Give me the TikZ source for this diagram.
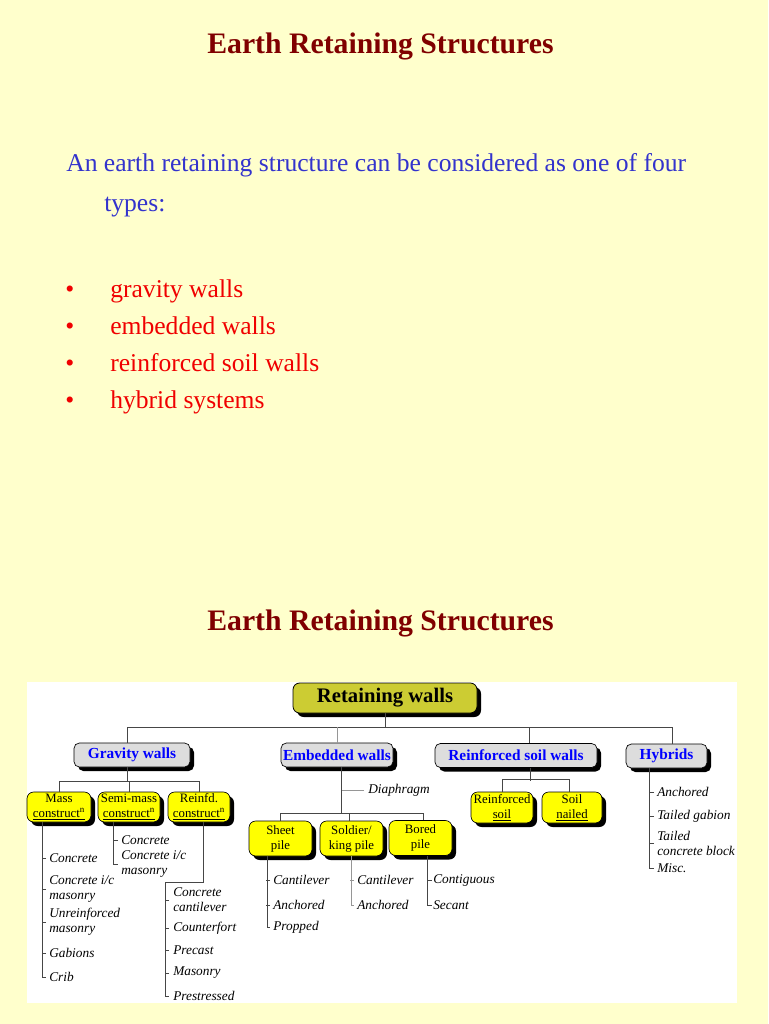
\documentclass[tikz,border=0pt]{standalone}
\usepackage{fontspec}
\setmainfont{Liberation Serif}
\usetikzlibrary{shadows}
\definecolor{bg}{RGB}{255,255,204}
\definecolor{ttl}{RGB}{128,0,0}
\definecolor{blu}{RGB}{51,51,204}
\definecolor{rd}{RGB}{240,0,0}
\definecolor{olivebox}{RGB}{204,204,51}
\definecolor{gbox}{RGB}{221,221,221}
\definecolor{ylw}{RGB}{255,255,0}
\definecolor{dln}{RGB}{70,70,70}
\definecolor{lln}{RGB}{150,150,150}
\definecolor{tblue}{RGB}{0,0,255}
\begin{document}
\begin{tikzpicture}[x=0.75pt,y=-0.75pt,
 shd/.style={drop shadow={shadow xshift=3pt,shadow yshift=-3pt,fill=black,opacity=1}},
 rootbox/.style={draw=black,line width=0.6pt,fill=olivebox,rounded corners=5pt,shd,minimum width=138pt,minimum height=22.5pt,inner sep=0pt,font=\fontsize{15.5}{18}\selectfont\bfseries},
 graybox/.style={draw=black,line width=0.5pt,fill=gbox,rounded corners=4pt,shd,minimum height=18pt,inner sep=0pt,text=tblue,font=\fontsize{11.5}{13}\selectfont\bfseries},
 ybox/.style={draw=black,line width=0.5pt,fill=ylw,rounded corners=5pt,shd,inner sep=0pt,align=center,font=\fontsize{9.6}{11.25}\selectfont},
 item/.style={anchor=west,inner sep=0pt,align=left,font=\fontsize{10}{11.25}\selectfont\itshape},
 ln/.style={draw=dln,line width=0.6pt},
 lt/.style={draw=lln,line width=0.6pt},
 ttlstyle/.style={anchor=base,inner sep=0pt,text=ttl,font=\fontsize{22.3}{26}\selectfont\bfseries},
 bodyblue/.style={anchor=base west,inner sep=0pt,text=blu,font=\fontsize{19.2}{22}\selectfont},
 bodyred/.style={anchor=base west,inner sep=0pt,text=rd,font=\fontsize{19.2}{22}\selectfont},
 ]
\fill[bg] (0,0) rectangle (768,1024);
\useasboundingbox (0,0) rectangle (768,1024);

% --- slide 1
\node[ttlstyle] (t1) at (380.5,54) {Earth Retaining Structures};
\node[bodyblue] (b1) at (66,171) {An earth retaining structure can be considered as one of four};
\node[bodyblue] (b2) at (104,211) {types:};
\foreach \y/\t/\n in {297/gravity walls/r1,334/embedded walls/r2,371/reinforced soil walls/r3,408/hybrid systems/r4}{
  \node[bodyred] (\n d) at (65,\y) {•};
  \node[bodyred] (\n) at (110,\y) {\t};
}

% --- slide 2
\node[ttlstyle] (t2) at (380.5,630) {Earth Retaining Structures};
\fill[white] (27,682) rectangle (737,1003);

% level 1
\node[rootbox] (root) at (385,698) {Retaining walls};
% level 2
\node[graybox,minimum width=87pt] (grav) at (132,755) {Gravity walls};
\node[graybox,minimum width=84pt] (emb) at (337,755) {Embedded walls};
\node[graybox,minimum width=121.5pt] (rsw) at (516,755.5) {Reinforced soil walls};
\node[graybox,minimum width=60.75pt] (hyb) at (666.5,756) {Hybrids};
% level 3
\node[ybox,minimum width=48pt,minimum height=22.5pt] (mass) at (59,807) {Mass\\\underline{construct\textsuperscript{n}}};
\node[ybox,minimum width=46.5pt,minimum height=22.5pt] (semi) at (129,807) {Semi-mass\\\underline{construct\textsuperscript{n}}};
\node[ybox,minimum width=46.5pt,minimum height=22.5pt] (reinf) at (199,807) {Reinfd.\\\underline{construct\textsuperscript{n}}};
\node[ybox,minimum width=47.25pt,minimum height=26.25pt] (sheet) at (280.5,838.5) {Sheet\\pile};
\node[ybox,minimum width=47.25pt,minimum height=26.25pt] (sold) at (351.5,838.5) {Soldier/\\king pile};
\node[ybox,minimum width=47.25pt,minimum height=26.25pt] (bored) at (420.5,838) {Bored\\pile};
\node[ybox,minimum width=46.5pt,minimum height=23.25pt] (rsoil) at (502,807.5) {Reinforced\\\underline{soil}};
\node[ybox,minimum width=45pt,minimum height=23.25pt] (snail) at (572,807.5) {Soil\\\underline{nailed}};

% connectors level 1 -> 2
\coordinate (rb) at (385,727);
\draw[ln] (root.south) -- (rb);
\draw[ln] ([xshift=-3.75pt]grav.north) -- ([xshift=-3.75pt]grav.north |- rb) -| ([xshift=4.1pt]hyb.north);
\draw[lt] (emb.north) -- (emb.north |- rb);
\draw[ln] ([xshift=9.75pt]rsw.north) -- ([xshift=9.75pt]rsw.north |- rb);

% gravity
\draw[ln] ([xshift=-3.75pt]grav.south) -- ++(0,15);
\draw[ln] (mass.north) -- ++(0,-10) -| (reinf.north);
\draw[ln] (semi.north) -- ++(0,-10);

% mass list
\node[item] (m1) at (49,858) {Concrete};
\node[item] (m2) at (49,889) {Concrete i/c\\masonry};
\node[item] (m3) at (49,922) {Unreinforced\\masonry};
\node[item] (m4) at (49,953) {Gabions};
\node[item] (m5) at (49,977) {Crib};
\draw[ln] ([xshift=-12.75pt]mass.south) |- ([xshift=-2.25pt]m5.west);
\foreach \n in {m1,m2,m3,m4} \draw[ln] ([xshift=-2.25pt]\n.west) -- ++(-4,0);

% semi list
\node[item] (s1) at (121,840) {Concrete};
\node[item] (s2) at (121,864) {Concrete i/c\\masonry};
\draw[ln] ([xshift=-12pt]semi.south) |- ([xshift=-2.25pt]s2.west);
\draw[ln] ([xshift=-2.25pt]s1.west) -- ++(-4,0);

% reinforced list
\node[item] (f1) at (173,900) {Concrete\\cantilever};
\node[item] (f2) at (173,928) {Counterfort};
\node[item] (f3) at (173,950) {Precast};
\node[item] (f4) at (173,973) {Masonry};
\node[item] (f5) at (173,996) {Prestressed};
\coordinate (fk) at (165,882);
\draw[ln] ([xshift=3pt]reinf.south) |- (fk) |- ([xshift=-3pt]f5.west);
\foreach \n in {f1,f2,f3,f4} \draw[ln] ([xshift=-3pt]\n.west) -- ++(-4,0);

% embedded
\draw[ln] ([xshift=3pt]emb.south) -- ++(0,47);
\node[item] (dia) at (368,790) {Diaphragm};
\draw[lt] ([xshift=-3pt]dia.west) -- ++(-22,0);
\draw[ln] (sheet.north) -- ++(0,-7) -| ([xshift=1.9pt]bored.north);
\draw[ln] ([xshift=-1.9pt]sold.north) -- ++(0,-7);

% sheet list
\node[item] (p1) at (273,880) {Cantilever};
\node[item] (p2) at (273,905) {Anchored};
\node[item] (p3) at (273,927) {Propped};
\draw[ln] ([xshift=-10.1pt]sheet.south) |- ([xshift=-2.25pt]p3.west);
\foreach \n in {p1,p2} \draw[ln] ([xshift=-2.25pt]\n.west) -- ++(-4,0);

% soldier list
\node[item] (k1) at (357,880) {Cantilever};
\node[item] (k2) at (357,905) {Anchored};
\draw[lt] (sold.south) |- ([xshift=-2.25pt]k2.west);
\draw[lt] ([xshift=-2.25pt]k1.west) -- ++(-4,0);

% bored list
\node[item] (q1) at (433,880) {Contiguous};
\node[item] (q2) at (433,905) {Secant};
\draw[ln] ([xshift=4.9pt]bored.south) |- ([xshift=-1pt]q2.west);
\draw[ln] ([xshift=-1pt]q1.west) -- ++(-4,0);

% reinforced soil walls
\draw[ln] ([xshift=10.5pt]rsw.south) -- ++(0,13);
\draw[ln] (rsoil.north) -- ++(0,-12) -| ([xshift=-2.25pt]snail.north);

% hybrids list
\node[item] (h1) at (657,792) {Anchored};
\node[item] (h2) at (657,816) {Tailed gabion};
\node[item] (h3) at (657,843) {Tailed\\concrete block};
\node[item] (h4) at (657,868) {Misc.};
\draw[ln] ([xshift=-13.1pt]hyb.south) |- ([xshift=-2.25pt]h4.west);
\foreach \n in {h1,h2,h3} \draw[ln] ([xshift=-2.25pt]\n.west) -- ++(-4,0);
\end{tikzpicture}
\end{document}
